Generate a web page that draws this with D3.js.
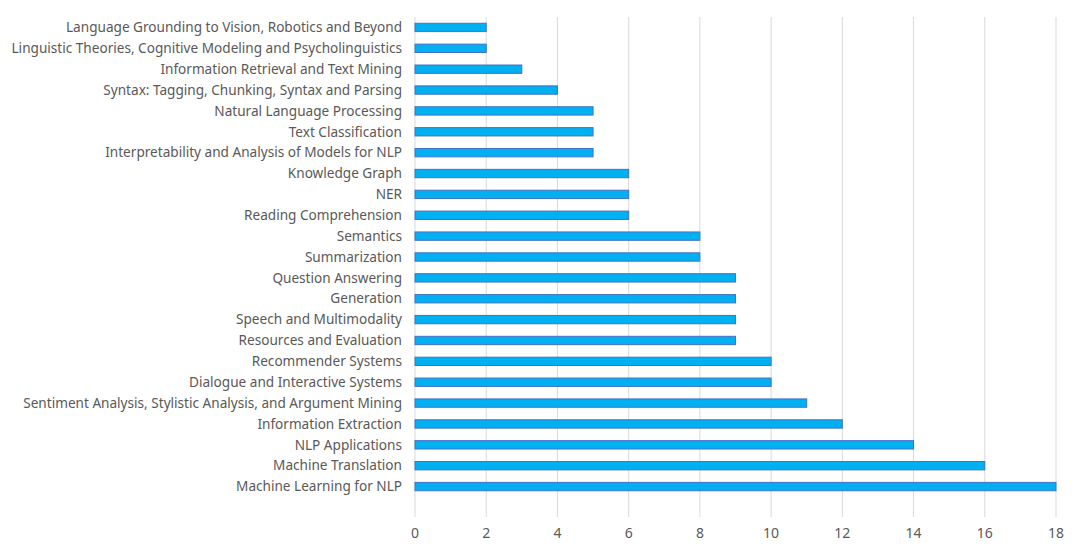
<!DOCTYPE html>
<html>
<head>
<meta charset="utf-8">
<script src="https://cdn.jsdelivr.net/npm/d3@7"></script>
<style>
  body { margin: 0; background: #fff; }
  text { font-family: "Noto Sans", sans-serif; }
</style>
</head>
<body>
<div class="chart"></div>
<script>
// topics and their paper counts, top to bottom
var topics = [
  "Language Grounding to Vision, Robotics and Beyond",
  "Linguistic Theories, Cognitive Modeling and Psycholinguistics",
  "Information Retrieval and Text Mining",
  "Syntax: Tagging, Chunking, Syntax and Parsing",
  "Natural Language Processing",
  "Text Classification",
  "Interpretability and Analysis of Models for NLP",
  "Knowledge Graph",
  "NER",
  "Reading Comprehension",
  "Semantics",
  "Summarization",
  "Question Answering",
  "Generation",
  "Speech and Multimodality",
  "Resources and Evaluation",
  "Recommender Systems",
  "Dialogue and Interactive Systems",
  "Sentiment Analysis, Stylistic Analysis, and Argument Mining",
  "Information Extraction",
  "NLP Applications",
  "Machine Translation",
  "Machine Learning for NLP"
];
var counts = [2, 2, 3, 4, 5, 5, 5, 6, 6, 6, 8, 8, 9, 9, 9, 9, 10, 10, 11, 12, 14, 16, 18];
var ticks = [0, 2, 4, 6, 8, 10, 12, 14, 16, 18];

var width = 1080, height = 550;
// plot area (named so they don't clash with window.top)
var plotLeft = 415, plotRight = 1056, plotTop = 17, plotBottom = 497, gridBottom = 517;

var svg = d3.select(".chart")
  .append("svg")
  .attr("width", width)
  .attr("height", height);

var x = d3.scaleLinear().domain([0, 18]).range([plotLeft, plotRight]);
var y = d3.scaleBand().domain(topics).range([plotTop, plotBottom]).paddingInner(0.6).paddingOuter(0.3);

// vertical gridlines
svg.append("g")
  .selectAll("line")
  .data(ticks)
  .join("line")
  .attr("x1", d => x(d))
  .attr("x2", d => x(d))
  .attr("y1", plotTop)
  .attr("y2", gridBottom)
  .style("stroke", "#d9d9d9")
  .style("stroke-width", 1);

// x tick labels
svg.append("g")
  .selectAll("text")
  .data(ticks)
  .join("text")
  .attr("x", d => x(d))
  .attr("y", 538)
  .attr("text-anchor", "middle")
  .style("font-size", "14px")
  .attr("fill", "#595959")
  .text(d => d);

// bars
svg.append("g")
  .selectAll("rect")
  .data(topics)
  .join("rect")
  .attr("x", x(0))
  .attr("y", d => y(d))
  .attr("width", (d, i) => x(counts[i]) - x(0))
  .attr("height", y.bandwidth())
  .attr("fill", "#00b0f0")
  .style("stroke", "#4472c4")
  .style("stroke-width", 1);

// category labels
svg.append("g")
  .selectAll("text")
  .data(topics)
  .join("text")
  .attr("x", 402)
  .attr("y", d => y(d) + y.bandwidth() / 2)
  .attr("dy", "0.35em")
  .attr("text-anchor", "end")
  .style("font-size", "13.6px")
  .attr("fill", "#595959")
  .text(d => d);
</script>
</body>
</html>
